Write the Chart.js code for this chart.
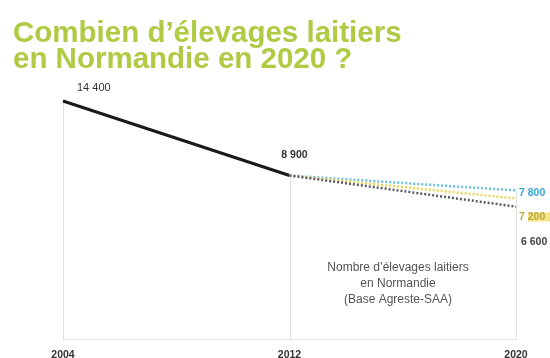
<!DOCTYPE html>
<html lang="fr">
<head>
<meta charset="utf-8">
<title>Élevages laitiers en Normandie</title>
<script src="https://cdn.jsdelivr.net/npm/chart.js@4.4.1/dist/chart.umd.min.js"></script>
<style>
  html, body { margin: 0; padding: 0; background: #fff; }
  #wrap { position: relative; width: 550px; height: 358px; overflow: hidden; }
  #title {
    position: absolute; left: 13px; top: 19px; margin: 0;
    font: bold 29.5px/26px "Liberation Sans", Arial, sans-serif;
    color: #afcb44;
  }
  #chart { position: absolute; left: 0; top: 0; }
</style>
</head>
<body>
<div id="wrap">
  <canvas id="chart" width="550" height="370"></canvas>
  <h1 id="title">Combien d’élevages laitiers<br>en Normandie en 2020 ?</h1>
</div>
<script>
// années (axe horizontal)
const years = [2004, 2012, 2020];

// nombre d'élevages : relevés puis trois hypothèses pour 2020
const observed = [14400, 8900, null];
const projHigh = [null, 8900, 7800];
const projMid = [null, 8900, 7200];
const projLow = [null, 8900, 6600];

const noteLines = ["Nombre d’élevages laitiers", "en Normandie", "(Base Agreste-SAA)"];

const fmt = (n) => String(n).replace(/\B(?=(\d{3})+(?!\d))/g, " ");
const toPoints = (vals) => years.map((y, i) => ({ x: y, y: vals[i] }));

// traits verticaux depuis la valeur la plus haute de chaque année jusqu'à l'axe
const dropLines = {
  id: "dropLines",
  beforeDatasetsDraw(chart) {
    const { ctx, chartArea, scales } = chart;
    const series = [observed, projHigh, projMid, projLow];
    ctx.save();
    ctx.strokeStyle = "#e2e2e2";
    ctx.lineWidth = 1;
    years.forEach((yr, i) => {
      const vals = series.map((s) => s[i]).filter((v) => v != null);
      const top = Math.max(...vals);
      const x = Math.round(scales.x.getPixelForValue(yr)) + 0.5;
      ctx.beginPath();
      ctx.moveTo(x, scales.y.getPixelForValue(top));
      ctx.lineTo(x, chartArea.bottom);
      ctx.stroke();
    });
    ctx.restore();
  },
};

// étiquettes de valeurs et légende de la source
const valueLabels = {
  id: "valueLabels",
  afterDatasetsDraw(chart) {
    const { ctx, scales, chartArea } = chart;
    const px = (x) => scales.x.getPixelForValue(x);
    const py = (y) => scales.y.getPixelForValue(y);
    ctx.save();
    ctx.textBaseline = "middle";

    ctx.font = "11px 'Liberation Sans', Arial, sans-serif";
    ctx.fillStyle = "#333";
    ctx.textAlign = "left";
    ctx.fillText(fmt(observed[0]), px(years[0]) + 14, py(observed[0]) - 13);

    ctx.font = "bold 10.5px 'Liberation Sans', Arial, sans-serif";
    ctx.textAlign = "center";
    ctx.fillText(fmt(observed[1]), px(years[1]) + 5, py(observed[1]) - 20);

    const xEnd = px(years[2]) + 3;
    ctx.textAlign = "left";
    ctx.fillStyle = "#3aa6d2";
    ctx.fillText(fmt(projHigh[2]), xEnd, py(projHigh[2]) + 3);

    ctx.fillStyle = "#f4e48c";
    ctx.fillRect(xEnd + 9, py(projMid[2]) + 14, 40, 9);
    ctx.fillStyle = "#bba83e";
    ctx.fillText(fmt(projMid[2]), xEnd, py(projMid[2]) + 19);

    ctx.fillStyle = "#444";
    ctx.fillText(fmt(projLow[2]), xEnd + 2, py(projLow[2]) + 35);

    ctx.font = "12px 'Liberation Sans Narrow', 'Arial Narrow', sans-serif";
    ctx.fillStyle = "#555";
    ctx.textAlign = "center";
    noteLines.forEach((line, i) => {
      ctx.fillText(line, chartArea.left + 335, 268 + i * 16);
    });
    ctx.restore();
  },
};

const lineBase = { pointRadius: 0, clip: false, spanGaps: false, tension: 0 };

new Chart(document.getElementById("chart"), {
  type: "line",
  data: {
    datasets: [
      { ...lineBase, label: "basse", data: toPoints(projLow), borderColor: "#5b5b66", borderWidth: 2.5, borderDash: [2, 2] },
      { ...lineBase, label: "médiane", data: toPoints(projMid), borderColor: "#ecd552", borderWidth: 2.5, borderDash: [2, 2] },
      { ...lineBase, label: "haute", data: toPoints(projHigh), borderColor: "#6cbde3", borderWidth: 2.5, borderDash: [2, 2] },
      { ...lineBase, label: "relevés", data: toPoints(observed), borderColor: "#1a1a1a", borderWidth: 3 },
    ],
  },
  options: {
    responsive: false,
    animation: false,
    layout: { padding: { left: 63, right: 34, top: 101, bottom: 0 } },
    plugins: { legend: { display: false }, tooltip: { enabled: false } },
    scales: {
      x: {
        type: "linear",
        min: years[0],
        max: years[years.length - 1],
        afterBuildTicks: (axis) => { axis.ticks = years.map((v) => ({ value: v })); },
        ticks: {
          callback: (v) => String(v),
          color: "#333",
          padding: 9,
          maxRotation: 0,
          font: { family: "'Liberation Sans', Arial, sans-serif", size: 10.5, weight: "bold" },
        },
        grid: { display: false, drawTicks: false },
        border: { color: "#e6e6e6", width: 1 },
      },
      y: { display: false, min: -3200, max: 14400 },
    },
  },
  plugins: [dropLines, valueLabels],
});
</script>
</body>
</html>
